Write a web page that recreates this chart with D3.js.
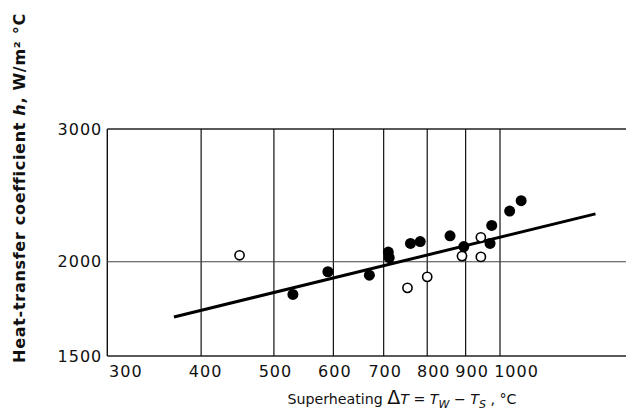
<!DOCTYPE html>
<html>
<head>
<meta charset="utf-8">
<script src="https://cdn.jsdelivr.net/npm/d3@7"></script>
<style>
  body { margin: 0; background: #fff; }
  svg { display: block; }
  text { font-family: "DejaVu Sans", sans-serif; fill: #111; }
</style>
</head>
<body>
<svg id="chart" width="626" height="417"></svg>
<script>
const width = 626;
const height = 417;

// tick values
const xTicks = [300, 400, 500, 600, 700, 800, 900, 1000];
const yTicks = [1500, 2000, 3000];

// measured points: superheating (°C), h (W/m² °C)
const filledX = [530, 590, 670, 710, 712, 760, 783, 858, 895, 970, 975, 1030, 1067];
const filledY = [1810, 1940, 1920, 2060, 2025, 2115, 2127, 2165, 2095, 2115, 2235, 2335, 2410];
const openX = [450, 753, 800, 890, 943, 943];
const openY = [2040, 1847, 1910, 2035, 2155, 2030];

// fitted line ends
const fitX = [368, 1340];
const fitY = [1690, 2315];

const svg = d3.select("#chart");

const x = d3.scaleLog().domain([300, 1000]).range([107.3, 500]);
const y = d3.scaleLog().domain([1500, 3000]).range([356, 129]);

// frame: left axis, top and bottom lines running off the right edge
svg.append("line")
  .attr("x1", x(300)).attr("x2", x(300))
  .attr("y1", y(3000)).attr("y2", y(1500))
  .attr("stroke", "#111").attr("stroke-width", 1.4);
[3000, 1500].forEach((v) => {
  svg.append("line")
    .attr("x1", x(300)).attr("x2", width)
    .attr("y1", y(v)).attr("y2", y(v))
    .attr("stroke", "#222").attr("stroke-width", 1.4);
});

// grid
svg.append("g")
  .selectAll("line")
  .data(xTicks.slice(1))
  .enter()
  .append("line")
  .attr("x1", (d) => x(d)).attr("x2", (d) => x(d))
  .attr("y1", y(3000)).attr("y2", y(1500))
  .attr("stroke", "#111").attr("stroke-width", 1.2);

svg.append("line")
  .attr("x1", x(300)).attr("x2", width)
  .attr("y1", y(2000)).attr("y2", y(2000))
  .attr("stroke", "#444").attr("stroke-width", 1.1);

// axes (labels only; lines drawn above)
const xAxis = d3.axisBottom(x).tickValues(xTicks).tickFormat(d3.format("d")).tickSize(0).tickPadding(10);
const gx = svg.append("g")
  .attr("transform", `translate(0, ${y(1500)})`)
  .call(xAxis);
gx.select(".domain").remove();
gx.selectAll("text")
  .attr("font-size", 16)
  .attr("letter-spacing", 1)
  .attr("font-family", "DejaVu Sans")
  .attr("fill", "#111")
  .attr("dx", (d) => (d === 300 ? 18 : d === 1000 ? 16 : d >= 800 ? 6 : d === 400 ? 4 : 1));

const yAxis = d3.axisLeft(y).tickValues(yTicks).tickFormat(d3.format("d")).tickSize(0).tickPadding(5);
const gy = svg.append("g")
  .attr("transform", `translate(${x(300)}, 0)`)
  .call(yAxis);
gy.select(".domain").remove();
gy.selectAll("text")
  .attr("font-size", 16)
  .attr("letter-spacing", 1)
  .attr("font-family", "DejaVu Sans")
  .attr("fill", "#111");

// fitted line
const fit = fitX.map((v, i) => [v, fitY[i]]);
svg.append("path")
  .datum(fit)
  .attr("d", d3.line().x((d) => x(d[0])).y((d) => y(d[1])))
  .attr("fill", "none")
  .attr("stroke", "#000")
  .attr("stroke-width", 3);

// points
svg.append("g")
  .selectAll("circle")
  .data(filledX.map((v, i) => [v, filledY[i]]))
  .enter()
  .append("circle")
  .attr("cx", (d) => x(d[0]))
  .attr("cy", (d) => y(d[1]))
  .attr("r", 5.5)
  .attr("fill", "#000");

svg.append("g")
  .selectAll("circle")
  .data(openX.map((v, i) => [v, openY[i]]))
  .enter()
  .append("circle")
  .attr("cx", (d) => x(d[0]))
  .attr("cy", (d) => y(d[1]))
  .attr("r", 4.6)
  .attr("fill", "#fff")
  .attr("stroke", "#000")
  .attr("stroke-width", 1.6);

// axis titles
const xt = svg.append("text")
  .attr("x", 402)
  .attr("y", 404)
  .attr("text-anchor", "middle")
  .attr("font-size", 14.2);
xt.append("tspan").text("Superheating  ");
xt.append("tspan").attr("font-size", 19).text("Δ");
xt.append("tspan").attr("font-style", "italic").text("T");
xt.append("tspan").text(" = ");
xt.append("tspan").attr("font-style", "italic").text("T");
xt.append("tspan").attr("font-style", "italic").attr("font-size", 11).attr("dy", 4).text("W");
xt.append("tspan").attr("dy", -4).text(" − ");
xt.append("tspan").attr("font-style", "italic").text("T");
xt.append("tspan").attr("font-style", "italic").attr("font-size", 11).attr("dy", 4).text("S");
xt.append("tspan").attr("dy", -4).text(" ,  °C");

const yt = svg.append("text")
  .attr("transform", "translate(25, 188) rotate(-90)")
  .attr("text-anchor", "middle")
  .attr("font-size", 16)
  .attr("letter-spacing", 0.7)
  .attr("font-weight", "bold");
yt.append("tspan").text("Heat-transfer  coefficient  ");
yt.append("tspan").attr("font-style", "italic").text("h");
yt.append("tspan").text(",  W/m² °C");
</script>
</body>
</html>
